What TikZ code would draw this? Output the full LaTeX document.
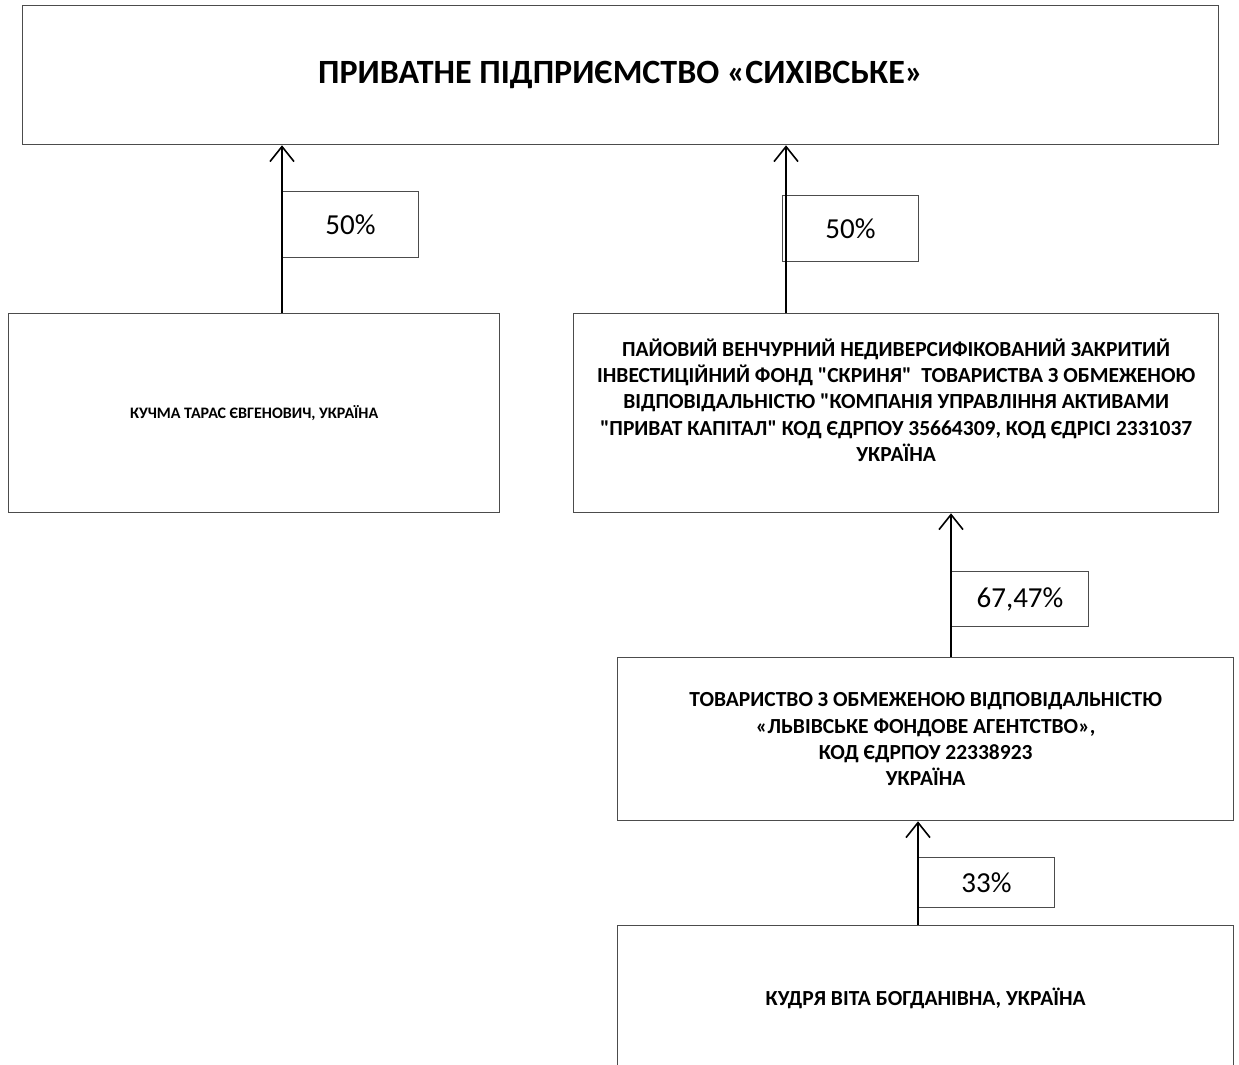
\documentclass[tikz,border=0pt]{standalone}
\usepackage{fontspec}
\setmainfont{Carlito}
\usetikzlibrary{arrows.meta}
\newcommand{\qq}{\textquotedbl}
\tikzset{
  box/.style={draw=black!70, line width=1.3pt, anchor=north west, align=center,
    inner sep=0pt, font=\bfseries\fontsize{21.5}{26.2}\selectfont},
  share/.style={draw=black!70, fill=white, line width=1pt, anchor=north west,
    inner sep=0pt, font=\fontsize{29}{32}\selectfont},
  own/.style={-{Straight Barb[length=15pt,width=24pt,line width=1.6pt]}, line width=1.8pt}
}
\begin{document}
\begin{tikzpicture}[x=1pt,y=-1pt]
  \useasboundingbox (0,0) rectangle (1239,1065);
  % companies and owners
  \node[box, minimum width=1196pt, minimum height=139pt,
    font=\bfseries\fontsize{34}{40}\selectfont] (top) at (22,5)
    {ПРИВАТНЕ ПІДПРИЄМСТВО «СИХІВСЬКЕ»};
  \node[box, minimum width=491pt, minimum height=199pt,
    font=\bfseries\fontsize{16}{20}\selectfont] (kuchma) at (8,313)
    {КУЧМА ТАРАС ЄВГЕНОВИЧ, УКРАЇНА};
  \node[box, minimum width=645pt, minimum height=199pt] (fund) at (573,313)
    {ПАЙОВИЙ ВЕНЧУРНИЙ НЕДИВЕРСИФІКОВАНИЙ ЗАКРИТИЙ\\
     ІНВЕСТИЦІЙНИЙ ФОНД \qq СКРИНЯ\qq{} \ ТОВАРИСТВА З ОБМЕЖЕНОЮ\\
     ВІДПОВІДАЛЬНІСТЮ \qq КОМПАНІЯ УПРАВЛІННЯ АКТИВАМИ\\
     \qq ПРИВАТ КАПІТАЛ\qq{} КОД ЄДРПОУ 35664309, КОД ЄДРІСІ 2331037\\
     УКРАЇНА\\ \mbox{}};
  \node[box, minimum width=616pt, minimum height=163pt] (lfa) at (617,657)
    {ТОВАРИСТВО З ОБМЕЖЕНОЮ ВІДПОВІДАЛЬНІСТЮ\\
     «ЛЬВІВСЬКЕ ФОНДОВЕ АГЕНТСТВО»,\\
     КОД ЄДРПОУ 22338923\\
     УКРАЇНА};
  \node[box, minimum width=616pt, minimum height=146pt] (kudrya) at (617,925)
    {КУДРЯ ВІТА БОГДАНІВНА, УКРАЇНА};
  % shares
  \node[share, minimum width=136pt, minimum height=66pt] (p1) at (282,191) {50\%};
  \node[share, minimum width=136pt, minimum height=66pt] (p2) at (782,195) {50\%};
  \node[share, minimum width=137pt, minimum height=55pt] (p3) at (951,571) {67,47\%};
  \node[share, minimum width=136pt, minimum height=50pt] (p4) at (918,857) {33\%};
  \begin{scope}[own]
    \draw (kuchma.north -| p1.west) to (top.south -| p1.west);
    \draw ([xshift=4pt]fund.north -| p2.west) to ([xshift=4pt]top.south -| p2.west);
    \draw (lfa.north -| p3.west) to (fund.south -| p3.west);
    \draw (kudrya.north -| p4.west) to (lfa.south -| p4.west);
  \end{scope}
\end{tikzpicture}
\end{document}
